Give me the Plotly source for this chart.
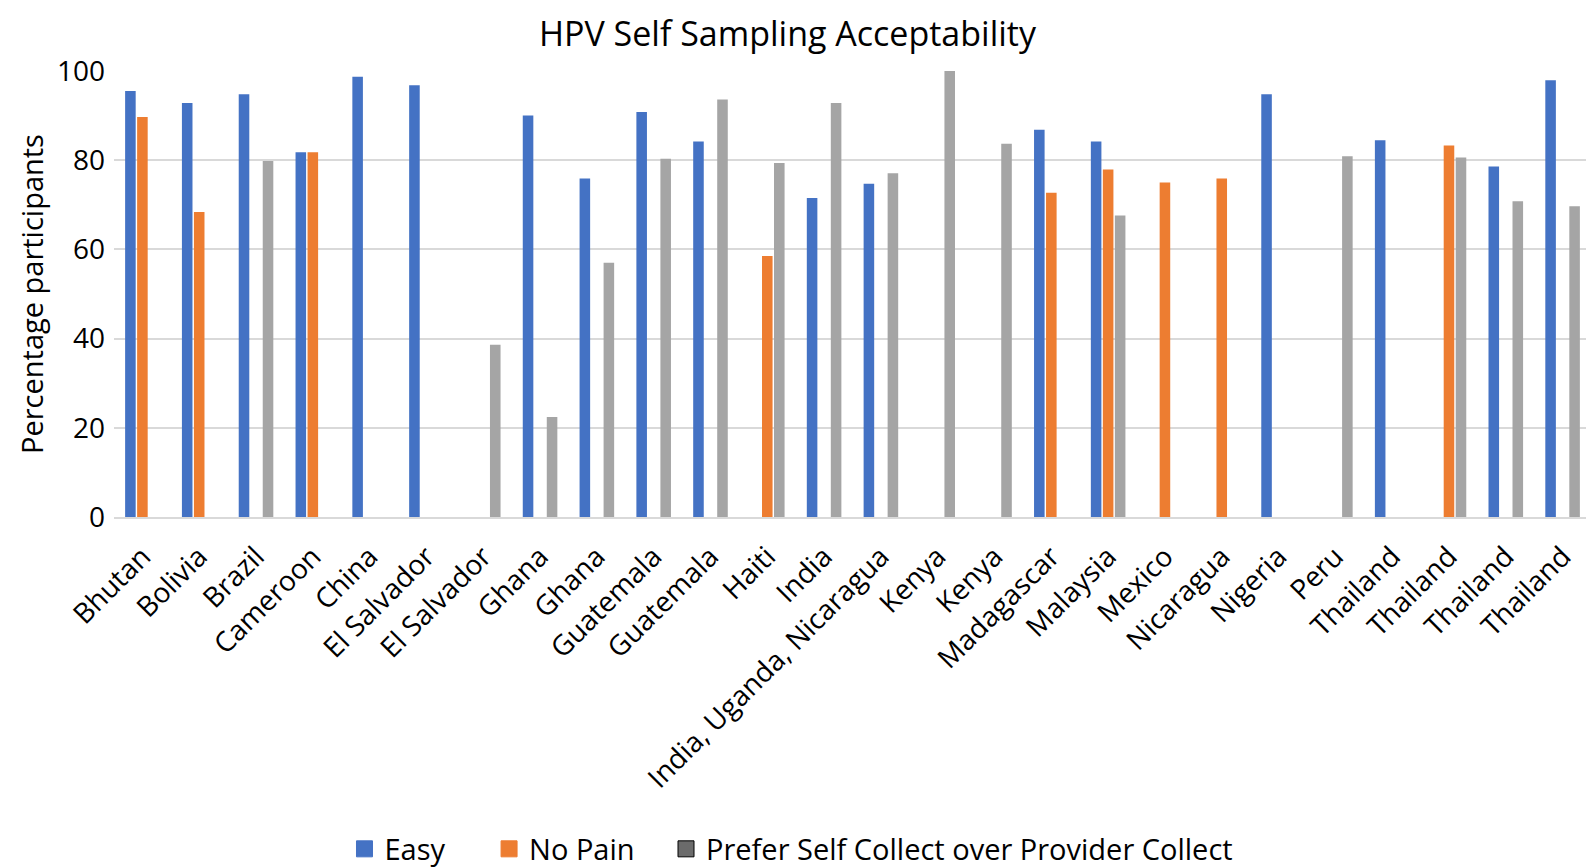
import plotly.graph_objects as go

categories = ["Bhutan", "Bolivia", "Brazil", "Cameroon", "China", "El Salvador", "El Salvador",
              "Ghana", "Ghana", "Guatemala", "Guatemala", "Haiti", "India",
              "India, Uganda, Nicaragua", "Kenya", "Kenya", "Madagascar", "Malaysia",
              "Mexico", "Nicaragua", "Nigeria", "Peru", "Thailand", "Thailand",
              "Thailand", "Thailand"]

easy = [95.5, 92.8, 94.8, 81.8, 98.7, 96.8, None, 90.0, 75.9, 90.8, 84.2, None, 71.5,
        74.7, None, None, 86.8, 84.2, None, None, 94.8, None, 84.5, None, 78.6, 97.9]
no_pain = [89.7, 68.4, None, 81.8, None, None, None, None, None, None, None, 58.5, None,
           None, None, None, 72.7, 77.9, 75.0, 75.9, None, None, None, 83.3, None, None]
prefer_self = [None, None, 79.8, None, None, None, 38.6, 22.4, 57.0, 80.3, 93.6, 79.4, 92.8,
               77.1, 100.0, 83.7, None, 67.6, None, None, None, 80.9, None, 80.6, 70.8, 69.7]

series_names = ["Easy", "No Pain", "Prefer Self Collect over Provider Collect"]
series_values = [easy, no_pain, prefer_self]
bar_colors = ["#4472C4", "#ED7D31", "#A5A5A5"]
legend_colors = ["#4472C4", "#ED7D31", "#6B6B6B"]
legend_lines = ["#4472C4", "#ED7D31", "#000000"]
legend_ids = ["legend", "legend2", "legend3"]
legend_x = [0.2111, 0.3018, 0.4128]

positions = list(range(len(categories)))
FONT = "Open Sans"
TXT = "#000000"

L_MARGIN, R_MARGIN = 106, 11
plot_w = 1594 - L_MARGIN - R_MARGIN

fig = go.Figure()
for name, vals, col in zip(series_names, series_values, bar_colors):
    fig.add_trace(go.Bar(x=positions, y=vals, name=name, marker_color=col,
                         marker_line_width=0, showlegend=False))
for name, col, lc, lid in zip(series_names, legend_colors, legend_lines, legend_ids):
    fig.add_trace(go.Scatter(x=[None], y=[None], mode="markers", name=name, legend=lid,
                             marker=dict(symbol="square", size=16, color=col,
                                         line=dict(color=lc, width=1))))

legend_common = dict(orientation="h", xref="container", yref="container",
                     xanchor="left", y=0.03, yanchor="middle",
                     font=dict(family=FONT, size=29, color=TXT),
                     itemsizing="trace", bgcolor="rgba(0,0,0,0)", borderwidth=0)

fig.update_layout(
    width=1594, height=867,
    paper_bgcolor="white", plot_bgcolor="white",
    margin=dict(l=L_MARGIN, r=R_MARGIN, t=63, b=358),
    barmode="group", bargap=0.366, bargroupgap=0.12,
    font=dict(family=FONT, size=27, color=TXT),
    title=dict(text="HPV Self Sampling Acceptability", x=0.489, xanchor="center",
               xref="container", y=0.97, yanchor="middle", yref="container",
               font=dict(family=FONT, size=34, color=TXT)),
    legend=dict(x=legend_x[0], **legend_common),
    legend2=dict(x=legend_x[1], **legend_common),
    legend3=dict(x=legend_x[2], **legend_common),
    xaxis=dict(range=[-0.5, len(categories) - 0.5], tickmode="array",
               tickvals=positions, ticktext=categories, tickangle=-45,
               showgrid=False, zeroline=False, showline=True, linecolor="#D9D9D9",
               linewidth=2, ticks="", ticklabelstandoff=10,
               tickfont=dict(family=FONT, size=28, color=TXT)),
    yaxis=dict(range=[0, 100], tickvals=[0, 20, 40, 60, 80, 100], showgrid=True,
               gridcolor="#D9D9D9", gridwidth=2, zeroline=False, showline=False,
               ticks="", ticklabelstandoff=8,
               tickfont=dict(family=FONT, size=28, color=TXT)),
    annotations=[dict(text="Percentage participants", textangle=-90,
                      xref="paper", yref="paper", x=(23 - L_MARGIN) / plot_w, y=0.5,
                      xanchor="center", yanchor="middle", showarrow=False,
                      font=dict(family=FONT, size=29, color=TXT))],
)

fig.write_html("out.html")
